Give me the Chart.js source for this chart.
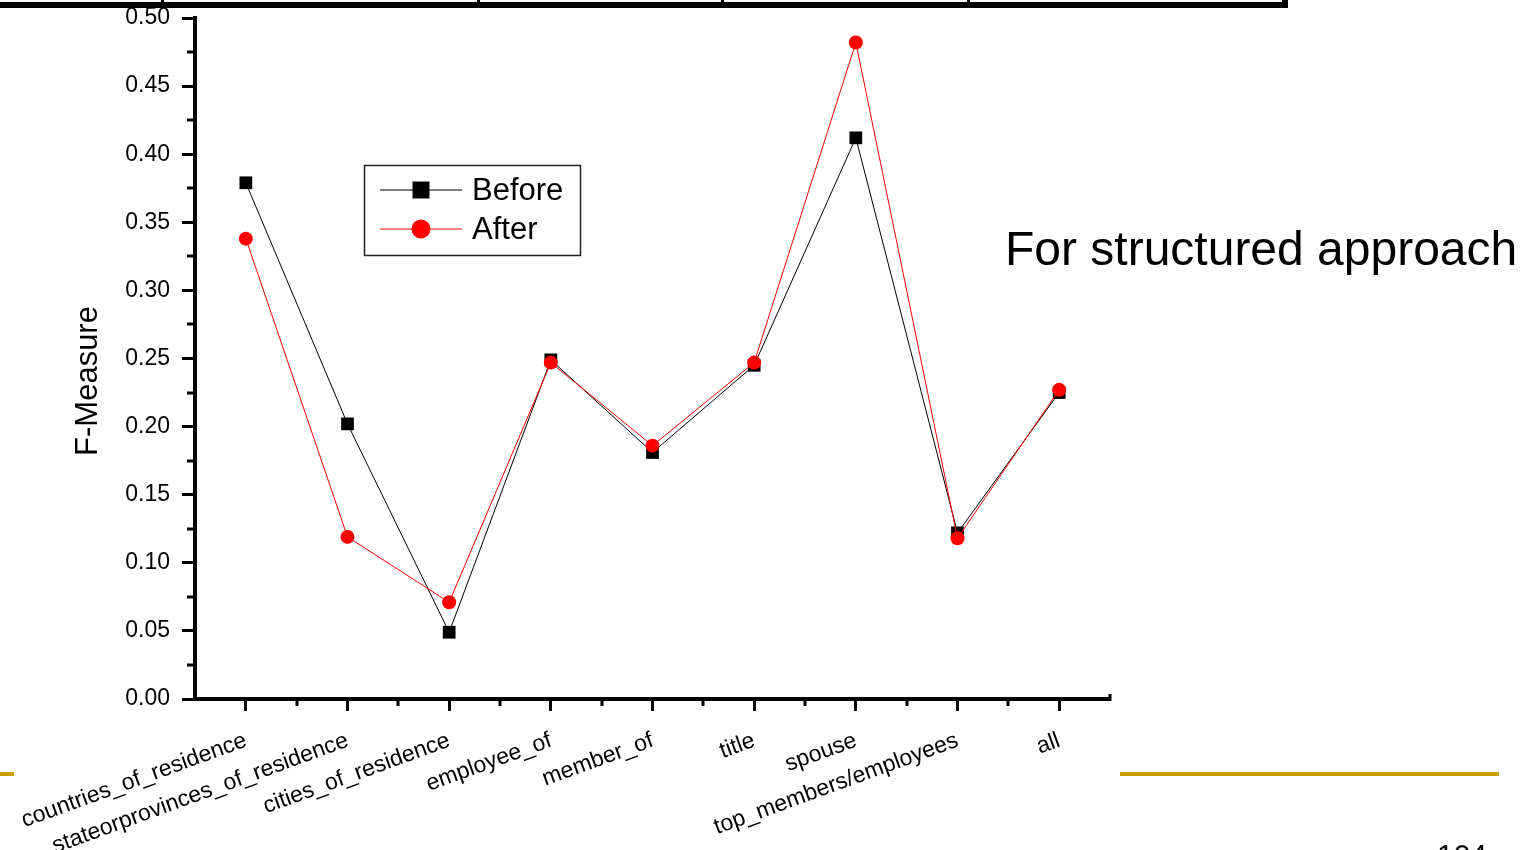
<!DOCTYPE html>
<html>
<head>
<meta charset="utf-8">
<title>F-Measure</title>
<script src="https://cdn.jsdelivr.net/npm/chart.js@4.4.1/dist/chart.umd.min.js"></script>
<style>
  html, body { margin: 0; padding: 0; background: #fff; }
  body { width: 1532px; height: 850px; overflow: hidden; position: relative; font-family: "Liberation Sans", Arial, sans-serif; }
  #chart { position: absolute; left: 0; top: 0; }
  .rule { position: absolute; background: #000; }
  .gold { position: absolute; background: #cf9e00; height: 4px; top: 772px; }
  .note { position: absolute; left: 1005px; top: 225px; font-size: 48px; line-height: 48px; color: #000; white-space: nowrap; }
  .page { position: absolute; left: 1437px; top: 840px; font-size: 30px; line-height: 30px; color: #000; }
</style>
</head>
<body>
<!-- bottom edge of the table above -->
<div class="rule" style="left:0; top:2px; width:1288px; height:6px;"></div>
<div class="rule" style="left:161px; top:0; width:3px; height:6px;"></div>
<div class="rule" style="left:477px; top:0; width:3px; height:6px;"></div>
<div class="rule" style="left:721px; top:0; width:3px; height:6px;"></div>
<div class="rule" style="left:967px; top:0; width:3px; height:6px;"></div>
<div class="rule" style="left:1282px; top:0; width:6px; height:8px;"></div>

<canvas id="chart" width="1532" height="850"></canvas>

<div class="note">For structured approach</div>
<div class="gold" style="left:0; width:14px;"></div>
<div class="gold" style="left:1120px; width:379px;"></div>
<div class="page">104</div>

<script>
const categories = [
  "countries_of_residence",
  "stateorprovinces_of_residence",
  "cities_of_residence",
  "employee_of",
  "member_of",
  "title",
  "spouse",
  "top_members/employees",
  "all"
];
const beforeValues = [0.379, 0.202, 0.049, 0.249, 0.181, 0.245, 0.412, 0.122, 0.225];
const afterValues  = [0.338, 0.119, 0.071, 0.247, 0.186, 0.247, 0.482, 0.118, 0.227];

const FONT = '"Liberation Sans", Arial, sans-serif';

// minor ticks, y title and the boxed legend
const extras = {
  id: "extras",
  afterDraw(chart) {
    const ctx = chart.ctx;
    const x = chart.scales.x;
    const y = chart.scales.y;
    const left = chart.chartArea.left;
    const bottom = chart.chartArea.bottom;

    ctx.save();
    ctx.strokeStyle = "#000";
    ctx.lineWidth = 3;
    for (let v = 0.025; v < 0.5; v += 0.05) {
      const py = Math.round(y.getPixelForValue(v));
      ctx.beginPath();
      ctx.moveTo(left - 8, py);
      ctx.lineTo(left, py);
      ctx.stroke();
    }
    for (let i = 0; i < categories.length - 1; i++) {
      const px = Math.round(x.getPixelForValue(i + 0.5));
      ctx.beginPath();
      ctx.moveTo(px, bottom);
      ctx.lineTo(px, bottom + 7);
      ctx.stroke();
    }
    // small end cap on the x axis
    ctx.beginPath();
    ctx.moveTo(chart.chartArea.right, bottom + 2);
    ctx.lineTo(chart.chartArea.right, bottom - 5);
    ctx.stroke();

    // y title
    ctx.fillStyle = "#000";
    ctx.font = "31px " + FONT;
    ctx.textAlign = "center";
    ctx.textBaseline = "middle";
    ctx.translate(88, 381);
    ctx.rotate(-Math.PI / 2);
    ctx.fillText("F-Measure", 0, 0);
    ctx.restore();

    // legend, markers a bit larger than on the lines
    ctx.save();
    ctx.fillStyle = "#fff";
    ctx.fillRect(364, 165, 217, 91);
    ctx.strokeStyle = "#222";
    ctx.lineWidth = 1.5;
    ctx.strokeRect(364.5, 165.5, 216, 90);
    const rows = [190, 229];
    const legendRadius = { rect: 12, circle: 9.5 };
    chart.data.datasets.forEach((ds, i) => {
      const ly = rows[i];
      ctx.strokeStyle = ds.borderColor;
      ctx.lineWidth = 1.2;
      ctx.beginPath();
      ctx.moveTo(380, ly);
      ctx.lineTo(462, ly);
      ctx.stroke();
      ctx.fillStyle = ds.pointBackgroundColor;
      Chart.helpers.drawPoint(ctx, {
        pointStyle: ds.pointStyle,
        radius: legendRadius[ds.pointStyle],
        borderWidth: 0,
        rotation: 0
      }, 421, ly);
      ctx.fillStyle = "#000";
      ctx.font = "31px " + FONT;
      ctx.textAlign = "left";
      ctx.textBaseline = "middle";
      ctx.fillText(ds.label, 472, ly + 1);
    });
    ctx.restore();
  }
};

new Chart(document.getElementById("chart"), {
  type: "line",
  data: {
    labels: categories,
    datasets: [
      {
        label: "Before",
        data: beforeValues,
        borderColor: "#000",
        borderWidth: 1,
        pointStyle: "rect",
        pointRadius: 9,
        pointBackgroundColor: "#000",
        pointBorderWidth: 0,
        tension: 0,
        order: 1
      },
      {
        label: "After",
        data: afterValues,
        borderColor: "#ff0000",
        borderWidth: 1,
        pointStyle: "circle",
        pointRadius: 7,
        pointBackgroundColor: "#ff0000",
        pointBorderWidth: 0,
        tension: 0,
        order: 0
      }
    ]
  },
  options: {
    responsive: false,
    animation: false,
    layout: { padding: { top: 18, right: 422, bottom: 0, left: 0 } },
    plugins: {
      legend: { display: false },
      tooltip: { enabled: false }
    },
    scales: {
      x: {
        offset: true,
        afterFit(scale) {
          scale.height = 151;
          scale.paddingLeft = 0;
          scale.paddingRight = 0;
        },
        grid: {
          offset: false,
          drawOnChartArea: false,
          tickLength: 12,
          tickWidth: 3,
          color: "#000"
        },
        border: { color: "#000", width: 4 },
        ticks: {
          autoSkip: false,
          minRotation: 20,
          maxRotation: 20,
          padding: 16,
          color: "#000",
          font: { family: FONT, size: 23 }
        }
      },
      y: {
        min: 0,
        max: 0.5,
        afterFit(scale) {
          scale.width = 195;
          scale.paddingTop = 0;
          scale.paddingBottom = 0;
        },
        grid: {
          drawOnChartArea: false,
          tickLength: 13,
          tickWidth: 3,
          color: "#000"
        },
        border: { color: "#000", width: 4 },
        ticks: {
          stepSize: 0.05,
          padding: 12,
          color: "#000",
          font: { family: FONT, size: 23 },
          callback: v => v.toFixed(2)
        }
      }
    }
  },
  plugins: [extras]
});
</script>
</body>
</html>
